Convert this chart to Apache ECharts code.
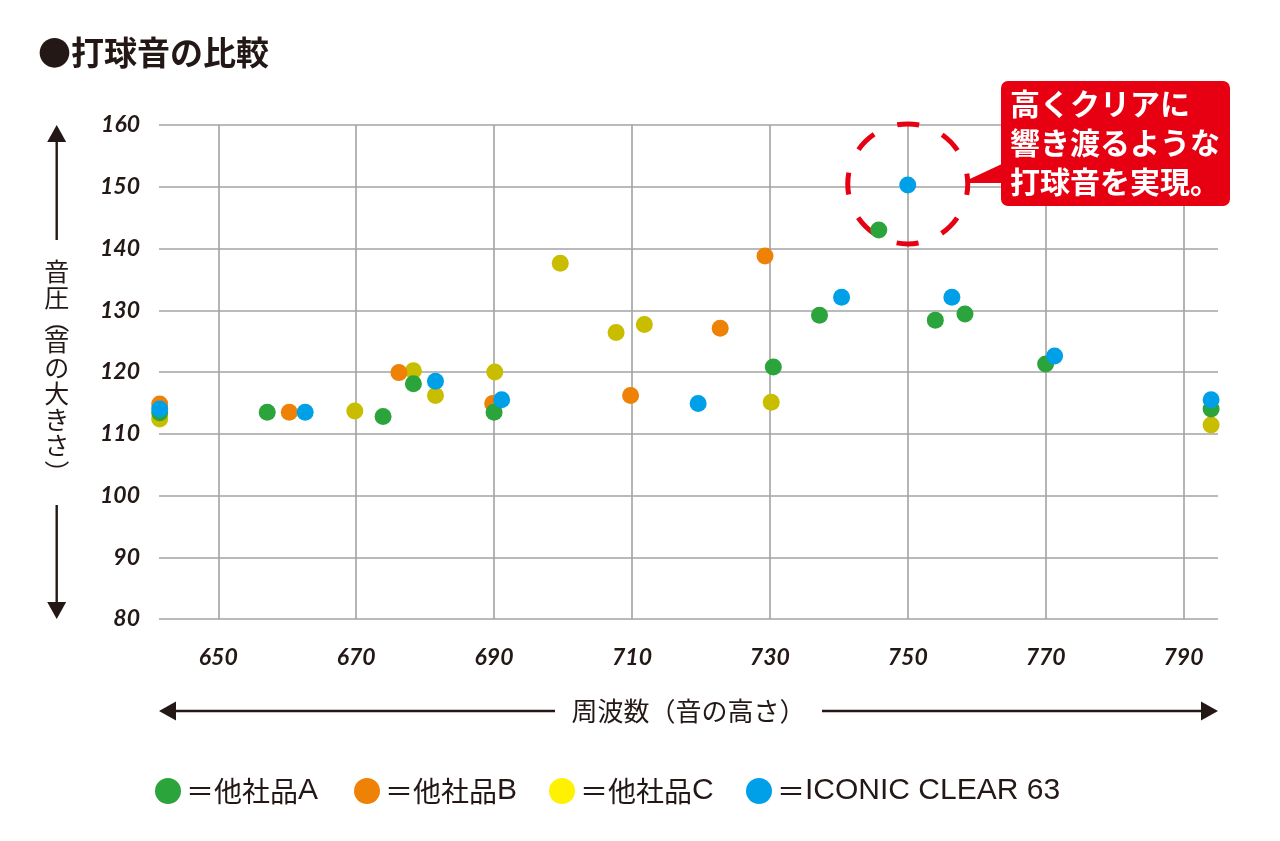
<!DOCTYPE html>
<html><head><meta charset="utf-8">
<script src="https://cdn.jsdelivr.net/npm/echarts@6/dist/echarts.min.js"></script>
<style>html,body{margin:0;padding:0;background:#fff}#c{width:1280px;height:841px}</style>
</head><body><div id="c"></div>
<script>
// ---- data ----
const xTicks = [650, 670, 690, 710, 730, 750, 770, 790];
const seriesNames = ['他社品A', '他社品B', '他社品C', 'ICONIC CLEAR 63'];
const brandA = [[641.5,113.4],[657.1,113.5],[673.9,112.8],[678.3,118.1],[690.0,113.5],[730.5,120.8],[737.2,129.2],[745.8,143.0],[754.0,128.4],[758.3,129.4],[770.0,121.3],[794.0,114.0]];
const brandB = [[641.5,114.8],[660.3,113.5],[676.2,119.9],[689.8,114.9],[709.8,116.2],[722.8,127.1],[729.3,138.8]];
const brandC = [[641.5,112.4],[669.8,113.7],[678.3,120.2],[681.5,116.2],[690.1,120.0],[699.6,137.6],[707.7,126.4],[711.8,127.7],[730.2,115.1],[794.0,111.4]];
const iconic = [[641.5,114.0],[662.6,113.5],[681.5,118.5],[691.1,115.5],[719.6,114.9],[740.4,132.1],[750.0,150.3],[756.4,132.1],[771.3,122.6],[794.0,115.5]];
const highlightPoint = [750.0, 150.3];
const titleText = '●打球音の比較';
const xName = '周波数（音の高さ）';
const yNameChars = ['音','圧','（','音','の','大','き','さ','）'];
const calloutText = ['高くクリアに', '響き渡るような', '打球音を実現。'];

// ---- style ----
const INK = '#231815';
const RED = '#e60012';
const colors = ['#2ba43c', '#ee8206', '#c9bd00', '#00a0e9'];
const legendColors = ['#2ba43c', '#ee8206', '#fff100', '#00a0e9'];
const legendLefts = [155, 354, 549, 746];
const CJK = '"Noto Sans CJK JP", sans-serif';
const LAT = '"Liberation Sans", Arial, sans-serif';
const NUM = 'Lato, "Open Sans", sans-serif';

const chart = echarts.init(document.getElementById('c'), null, {renderer: 'canvas'});
const seriesData = [brandA, brandB, brandC, iconic];
const drawOrder = [2, 1, 0, 3];

function legendLabel(name) {
  // split CJK prefix from the Latin part
  const m = name.match(/^([^A-Za-z0-9]*)(.*)$/);
  let s = '{c|＝' + m[1] + '}';
  if (m[2]) s += '{l|' + m[2] + '}';
  return s;
}

const option = {
  animation: false,
  backgroundColor: '#fff',
  title: {
    text: titleText, left: 38, top: 36, padding: 0,
    textStyle: {fontFamily: CJK, fontSize: 33, fontWeight: 'bold', color: INK}
  },
  legend: seriesNames.map((n, i) => ({
    data: [{name: n, itemStyle: {color: legendColors[i]}}],
    left: legendLefts[i], top: 776, padding: 0,
    icon: 'circle', itemWidth: 26, itemHeight: 26,
    selectedMode: false,
    formatter: legendLabel,
    textStyle: {
      color: INK,
      rich: {
        c: {fontFamily: CJK, fontSize: 28, color: INK},
        l: {fontFamily: LAT, fontSize: 30, color: INK}
      }
    }
  })),
  grid: {left: 159, right: 62, top: 125, bottom: 222, containLabel: false},
  xAxis: {
    type: 'value', min: 641.4, max: 795.0,
    axisLine: {show: false},
    axisTick: {show: false, customValues: xTicks},
    axisLabel: {customValues: xTicks, margin: 27, fontFamily: NUM, fontSize: 23, fontWeight: 'bold', fontStyle: 'italic', color: INK},
    splitLine: {show: true, lineStyle: {color: '#a3a3a3', width: 1.6}}
  },
  yAxis: {
    type: 'value', min: 80, max: 160, interval: 10,
    axisLine: {show: false}, axisTick: {show: false},
    axisLabel: {margin: 19, fontFamily: NUM, fontSize: 23, fontWeight: 'bold', fontStyle: 'italic', color: INK},
    splitLine: {show: true, lineStyle: {color: '#a3a3a3', width: 1.6}}
  },
  series: drawOrder.map(i => ({
    name: seriesNames[i], type: 'scatter', data: seriesData[i],
    symbol: 'circle', symbolSize: 17, clip: false,
    itemStyle: {color: colors[i], opacity: 1},
    emphasis: {disabled: true},
    z: 3
  }))
};
chart.setOption(option);

const c = chart.convertToPixel({xAxisIndex: 0, yAxisIndex: 0}, highlightPoint);
const R = 60;
const period = 2 * Math.PI * R / 8;
const dash = 22;

const gx0 = 159, gx1 = 1218, gy0 = 125, gy1 = 619;
const ax = 56.7;

// vertical (tategaki) axis name: upright glyphs, parentheses rotated
const yNameEls = [];
let yy = 271.5;
yNameChars.forEach((ch, i) => {
  const isParen = ch === '（' || ch === '）';
  if (i > 0) yy += isParen ? 23 : (yNameChars[i - 1] === '（' ? 21 : 26);
  if (i === yNameChars.length - 1) yy += 4;
  yNameEls.push({
    type: 'text', x: ax, y: yy, rotation: isParen ? -Math.PI / 2 : 0,
    style: {text: ch, x: 0, y: 0, align: 'center', verticalAlign: 'middle', fill: INK, fontFamily: CJK, fontSize: 25}
  });
});

const graphics = [
  // dashed highlight circle
  {type: 'circle', shape: {cx: c[0], cy: c[1] - 1, r: R}, z: 1,
   style: {fill: 'none', stroke: RED, lineWidth: 5, lineDash: [dash, period - dash], lineDashOffset: dash / 2}},
  // callout pointer
  {type: 'polygon', z: 10, shape: {points: [[1004, 163], [c[0] + R + 2, c[1] - 6], [c[0] + R + 2, c[1] - 2], [1004, c[1] - 2]]}, style: {fill: RED}},
  // callout box
  {type: 'rect', z: 10, shape: {x: 1001, y: 81, width: 229, height: 125, r: 7}, style: {fill: RED}},
  {type: 'text', z: 11, style: {text: calloutText.join('\n'), x: 1010, y: 84, fill: '#fff', fontFamily: CJK, fontSize: 30, fontWeight: 'bold', lineHeight: 39}},
  // y axis name and arrows
  {type: 'line', shape: {x1: ax, y1: 140, x2: ax, y2: 240}, style: {stroke: INK, lineWidth: 2.4}},
  {type: 'polygon', shape: {points: [[ax, gy0], [ax - 9.5, gy0 + 17], [ax + 9.5, gy0 + 17]]}, style: {fill: INK}},
  ...yNameEls,
  {type: 'line', shape: {x1: ax, y1: 505, x2: ax, y2: gy1 - 12}, style: {stroke: INK, lineWidth: 2.4}},
  {type: 'polygon', shape: {points: [[ax, gy1], [ax - 9.5, gy1 - 17], [ax + 9.5, gy1 - 17]]}, style: {fill: INK}},
  // x axis name and arrows
  {type: 'line', shape: {x1: gx0 + 12, y1: 711, x2: 555, y2: 711}, style: {stroke: INK, lineWidth: 2.4}},
  {type: 'polygon', shape: {points: [[gx0, 711], [gx0 + 17, 701.5], [gx0 + 17, 720.5]]}, style: {fill: INK}},
  {type: 'text', style: {text: xName, x: (gx0 + gx1) / 2, y: 711, align: 'center', verticalAlign: 'middle', fill: INK, fontFamily: CJK, fontSize: 26}},
  {type: 'line', shape: {x1: 822, y1: 711, x2: gx1 - 12, y2: 711}, style: {stroke: INK, lineWidth: 2.4}},
  {type: 'polygon', shape: {points: [[gx1, 711], [gx1 - 17, 701.5], [gx1 - 17, 720.5]]}, style: {fill: INK}}
];
chart.setOption({graphic: graphics});
</script>
</body></html>
